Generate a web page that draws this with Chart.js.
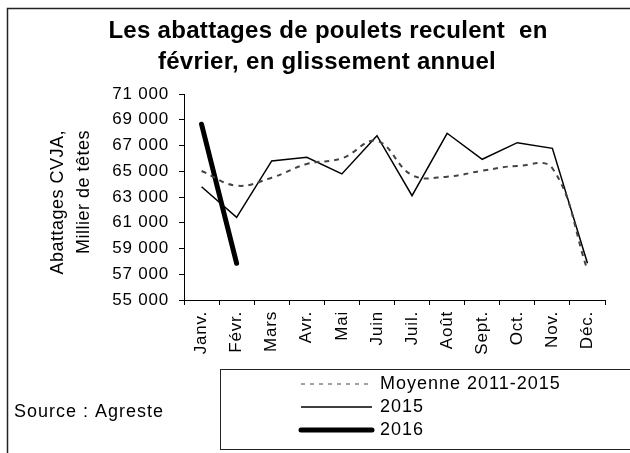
<!DOCTYPE html>
<html><head><meta charset="utf-8">
<script src="https://cdn.jsdelivr.net/npm/chart.js@4.4.1/dist/chart.umd.min.js"></script>
<style>html,body{margin:0;padding:0;background:#fff}#wrap{width:630px;height:453px;position:relative}</style>
</head><body><div id="wrap"><canvas id="c" width="630" height="453"></canvas></div>
<script>
const months = ['Janv.','Févr.','Mars','Avr.','Mai','Juin','Juil.','Août','Sept.','Oct.','Nov.','Déc.'];
const moyenne = [65020,63880,64500,65560,66000,67350,64700,64580,65040,65410,65230,57330];
const y2015 = [63800,61420,65800,66080,64790,67760,63100,67950,65930,67220,66780,57850];
const y2016 = [68650,57850,null,null,null,null,null,null,null,null,null,null];
const seriesNames = ['Moyenne 2011-2015','2015','2016'];
const titleLines = ['Les abattages de poulets reculent  en','février, en glissement annuel'];
const yTitleLines = ['Abattages CVJA,','Millier de têtes'];
const sourceText = 'Source : Agreste';

const FONT = 'Arial, "Liberation Sans", sans-serif';

const decor = {
  id:'decor',
  beforeUpdate(chart){ chart.ctx.letterSpacing = '0.8px'; },
  beforeDraw(chart){ chart.ctx.letterSpacing = '0.8px'; },
  afterDraw(chart){
    const ctx = chart.ctx;
    ctx.save();
    // frame
    ctx.strokeStyle = '#222'; ctx.lineWidth = 1.5;
    ctx.strokeRect(7.5, 8.5, 640, 460);
    // title
    ctx.fillStyle = '#000';
    ctx.font = 'bold 24px ' + FONT;
    ctx.letterSpacing = '0.3px';
    ctx.textAlign = 'center'; ctx.textBaseline = 'middle';
    ctx.fillText(titleLines[0], 328, 31);
    ctx.fillText(titleLines[1], 327, 62);
    // y title
    ctx.font = '18px ' + FONT;
    ctx.letterSpacing = '0.5px';
    ctx.textAlign = 'right';
    ctx.save();
    ctx.translate(58, 130); ctx.rotate(-Math.PI/2);
    ctx.fillText(yTitleLines[0], 0, 0);
    ctx.restore();
    ctx.save();
    ctx.translate(84, 130); ctx.rotate(-Math.PI/2);
    ctx.fillText(yTitleLines[1], 0, 0);
    ctx.restore();
    // source
    ctx.textAlign = 'left';
    ctx.font = '18px ' + FONT;
    ctx.letterSpacing = '1px';
    ctx.fillText(sourceText, 14, 412);
    // legend box
    ctx.strokeStyle = '#222'; ctx.lineWidth = 1;
    ctx.strokeRect(220.5, 369.5, 430, 80);
    const rows = [384, 407, 430];
    ctx.font = '18px ' + FONT;
    ctx.letterSpacing = '1px';
    chart.data.datasets.forEach((ds, i) => {
      ctx.save();
      ctx.strokeStyle = ds.borderColor;
      ctx.lineWidth = ds.legendWidth;
      ctx.setLineDash(ds.legendDash || []);
      ctx.lineCap = ds.borderCapStyle || 'butt';
      ctx.beginPath();
      ctx.moveTo(301, rows[i]); ctx.lineTo(372, rows[i]);
      ctx.stroke();
      ctx.restore();
      ctx.fillStyle = '#000';
      ctx.fillText(ds.label, 380, rows[i]);
    });
    ctx.restore();
  }
};

new Chart(document.getElementById('c'), {
  type:'line',
  data:{
    labels: months,
    datasets:[
      {label: seriesNames[0], data: moyenne, borderColor:'#444', borderWidth:2, borderDash:[5,5], tension:0.4, pointRadius:0, fill:false, legendWidth:1, legendDash:[4,5]},
      {label: seriesNames[1], data: y2015, borderColor:'#000', borderWidth:1.5, tension:0, pointRadius:0, fill:false, legendWidth:1.5},
      {label: seriesNames[2], data: y2016, borderColor:'#000', borderWidth:5, borderCapStyle:'round', tension:0, pointRadius:0, fill:false, spanGaps:false, legendWidth:5}
    ]
  },
  options:{
    responsive:false, animation:false,
    layout:{padding:{left:0, top:94, right:25, bottom:0}},
    plugins:{legend:{display:false}, title:{display:false}, tooltip:{enabled:false}},
    scales:{
      x:{
        offset:true,
        grid:{display:true, drawOnChartArea:false, drawTicks:true, tickLength:5, color:'#000', offset:true},
        border:{display:true, color:'#000', width:1},
        ticks:{color:'#000', font:{family:FONT, size:17}, minRotation:90, maxRotation:90, autoSkip:false, padding:6},
        afterFit(s){ s.height = 153; }
      },
      y:{
        min:55000, max:71000,
        grid:{display:true, drawOnChartArea:false, drawTicks:true, tickLength:5, color:'#000'},
        border:{display:true, color:'#000', width:1},
        ticks:{stepSize:2000, color:'#000', font:{family:FONT, size:17}, padding:10,
          callback:(v)=>{const s=String(v); return s.slice(0,s.length-3)+' '+s.slice(-3);}},
        afterFit(s){ s.width = 184; }
      }
    }
  },
  plugins:[decor]
});
</script></body></html>
